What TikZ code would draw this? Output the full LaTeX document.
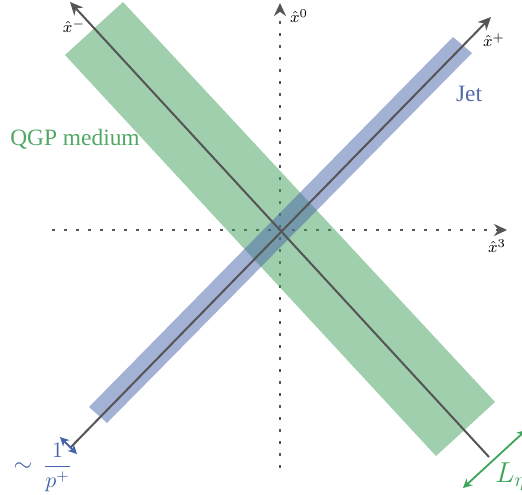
\documentclass[tikz,border=0pt]{standalone}
\usepackage{fontspec}
\newfontfamily\txtfont{Liberation Serif}
\usetikzlibrary{arrows.meta}
\definecolor{qgp}{RGB}{64,160,90}
\definecolor{jet}{RGB}{72,100,170}
\definecolor{axgray}{RGB}{85,85,85}
\definecolor{qgptext}{RGB}{80,168,100}
\definecolor{jettext}{RGB}{85,105,170}
\definecolor{arrblue}{RGB}{70,100,170}
\definecolor{arrgreen}{RGB}{60,165,90}
\tikzset{
  axisline/.style={draw=axgray, line width=1pt, -{Stealth[length=6.5pt,width=6pt]}},
  dotaxis/.style={draw=axgray, line width=1.3pt, dash pattern=on 1.3pt off 4.7pt, -{Stealth[length=6.5pt,width=6pt]}},
  band/.style={opacity=0.5},
  axlabel/.style={inner sep=0pt, font=\fontsize{8}{9}\selectfont},
  sizearrow/.style={line width=0.9pt, {Stealth[length=4.5pt,width=4.5pt]}-{Stealth[length=4.5pt,width=4.5pt]}},
}
\begin{document}
\begin{tikzpicture}[x=0.5pt,y=-0.5pt]
\useasboundingbox (0,0) rectangle (522,494);
\clip (0,0) rectangle (522,494);
% dotted coordinate axes
\coordinate (vB) at (280,468);
\coordinate (vT) at (280,3);
\coordinate (hL) at (52,230);
\coordinate (hR) at (507,230);
\draw[dotaxis] (vB) -- (vT);
\draw[dotaxis] (hL) -- (hR);
% bands
\fill[qgp, band] (123,2) -- (495,402) -- (436,456) -- (65,55) -- cycle;
\fill[jet, band] (453,37) -- (472,53) -- (107,423) -- (89,407) -- cycle;
% light-cone axes
\coordinate (mS) at (489,457);
\coordinate (mE) at (70,2);
\coordinate (pS) at (70,448);
\coordinate (pE) at (491,17);
\draw[axisline] (mS) -- (mE);
\draw[axisline] (pS) -- (pE);
% axis labels
\node[axlabel] (lm) at (74,26) {$\hat{x}^-$};
\node[axlabel] (lp) at (494,40) {$\hat{x}^+$};
\node[axlabel] (l0) at (299,16) {$\hat{x}^0$};
\node[axlabel] (l3) at (497,246) {$\hat{x}^3$};
% texts
\node[inner sep=0pt, text=qgptext, font=\txtfont\fontsize{11.7}{13}\selectfont] (qgp) at (75,139) {QGP medium};
\node[inner sep=0pt, text=jettext, font=\txtfont\fontsize{11.7}{13}\selectfont] (jetl) at (469,94) {Jet};
% size arrows
\coordinate (wa) at (60,437);
\coordinate (wb) at (77,454);
\draw[sizearrow, arrblue] (wa) -- (wb);
\node[inner sep=0pt, anchor=base, text=arrblue, font=\fontsize{13}{15}\selectfont] (tilde) at (23,471.5) {$\sim$};
\node[inner sep=0pt, anchor=base, text=arrblue, font=\fontsize{10.5}{12}\selectfont] (frac) at (57.5,472) {$\displaystyle\frac{1}{p^+}$};
\coordinate (la) at (463,488);
\coordinate (lb) at (526,430);
\draw[sizearrow, arrgreen] (la) -- (lb);
\node[inner sep=0pt, anchor=base west, text=arrgreen, font=\fontsize{14}{16}\selectfont] (leta) at (495,482) {$L_\eta$};
\end{tikzpicture}
\end{document}
